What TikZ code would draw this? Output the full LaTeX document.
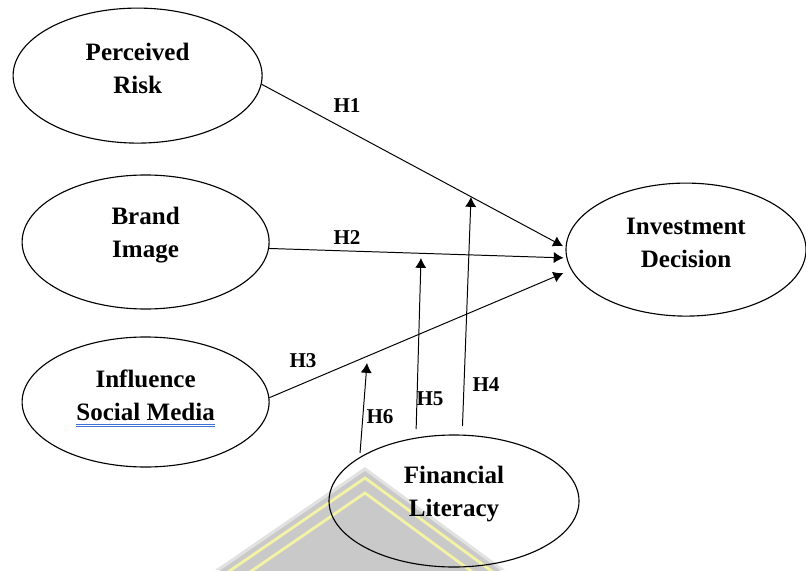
\documentclass[tikz,border=0pt]{standalone}
\usepackage{fontspec}
\setmainfont{Liberation Serif}
\usetikzlibrary{shapes.geometric,arrows.meta}
\begin{document}
\begin{tikzpicture}
% estilos de linea y relleno
\tikzstyle{var} = [ellipse,draw,line width=0.8pt,inner sep=0pt];
\tikzstyle{vart} = [align=center,inner sep=0pt,yshift=0.17cm,
  font=\bfseries\fontsize{17.8}{23.5}\selectfont];
\tikzstyle{hipo} = [line width=0.7pt,-{Latex[length=7pt,width=8pt]}];
\tikzstyle{hipt} = [inner sep=0pt,font=\bfseries\fontsize{15}{18}\selectfont];
\definecolor{fondo}{RGB}{201,201,201}
\definecolor{borde}{RGB}{226,226,226}
\definecolor{franja}{RGB}{244,242,165}
\definecolor{subrayado}{RGB}{62,112,214}
% definicion variable latente
% #1: nombre del nodo
% #2: ubicacion del centro
% #3: ancho de la elipse
% #4: alto de la elipse
% #5: rotulo de la variable
\newcommand{\variable}[5]{
\node[var,minimum width=#3cm,minimum height=#4cm] (#1) at #2 {};
\node[vart] (#1t) at #2 {#5};
 }
\useasboundingbox (0,0) rectangle (20.15,14.25);
% marca de agua
\begin{scope}
\clip (0,0) rectangle (20.15,14.25);
\fill[borde] (5.375,0) -- (9.125,2.575) -- (12.625,0) -- cycle;
\fill[fondo,yshift=-0.1cm] (5.375,0) -- (9.125,2.575) -- (12.625,0) -- cycle;
\foreach \d in {0.275,0.65}
  \draw[franja,line width=2pt,yshift=-\d cm] (5.375,0) -- (9.125,2.575) -- (12.625,0);
\end{scope}
% dibujar variables
\variable{riesgo}{(3.44,12.36)}{6.225}{3.375}{Perceived\\Risk}
\variable{imagen}{(3.64,8.2)}{6.175}{3.35}{Brand\\Image}
\variable{social}{(3.64,4.2)}{6.175}{3.25}{Influence\\Social Media}
\variable{decision}{(17.15,8.01)}{6.0}{3.325}{Investment\\Decision}
\variable{literacia}{(11.35,1.725)}{6.25}{3.3}{Financial\\Literacy}
% subrayado doble
\draw[subrayado,line width=0.5pt] (1.9,3.64) -- (5.375,3.64);
\draw[subrayado,line width=0.5pt] (1.9,3.58) -- (5.375,3.58);
% puntos de llegada de la moderacion
\coordinate (m4) at (11.775,9.325);
\coordinate (m5) at (10.525,7.8);
\coordinate (m6) at (9.175,5.175);
% dibujar hipotesis
\draw[hipo,shorten >=2pt] (riesgo.-4) -- (decision.179);
\draw[hipo,shorten >=2pt] (imagen.-3) -- (decision.-176.5);
\draw[hipo,shorten >=6pt] (social.2) -- (decision.190);
\draw[hipo,shorten <=6pt] (literacia.83) -- (m4);
\draw[hipo,shorten <=6pt] (literacia.121) -- (m5);
\draw[hipo,shorten <=3pt] (literacia.155) -- (m6);
% rotulos de hipotesis
\node[hipt] (h1) at (8.675,11.6) {H1};
\node[hipt] (h2) at (8.675,8.3) {H2};
\node[hipt] (h3) at (7.575,5.225) {H3};
\node[hipt] (h4) at (12.15,4.625) {H4};
\node[hipt] (h5) at (10.75,4.275) {H5};
\node[hipt] (h6) at (9.5,3.825) {H6};
\end{tikzpicture}
\end{document}
